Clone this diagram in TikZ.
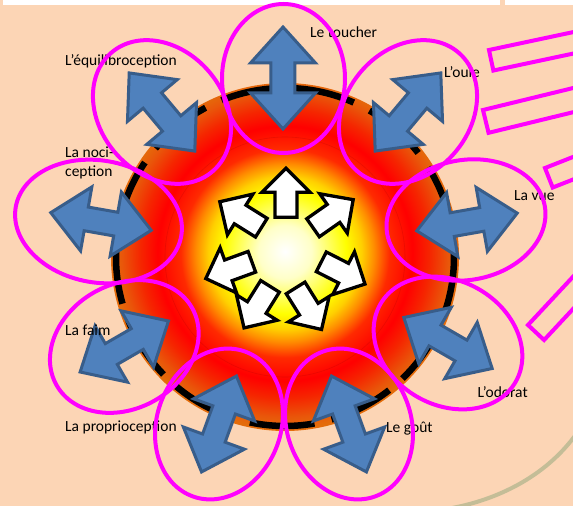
\documentclass[tikz,border=0pt]{standalone}
\usepackage{fontspec}
\setmainfont{Carlito}
\definecolor{peach}{HTML}{FCD5B5}
\definecolor{mag}{HTML}{FF00FF}
\definecolor{bluefill}{HTML}{4F81BD}
\definecolor{blueedge}{HTML}{385D8A}
\definecolor{khaki}{HTML}{C4BD97}
\definecolor{sA}{HTML}{FFFFC8}
\definecolor{sB}{HTML}{FFFF00}
\definecolor{sC}{HTML}{FFD000}
\definecolor{sD}{HTML}{FF8C00}
\definecolor{sE}{HTML}{FF2A00}
\definecolor{sF}{HTML}{FF0000}
\definecolor{sG}{HTML}{F52600}
\definecolor{sH}{HTML}{E9560A}
\definecolor{sI}{HTML}{E46C0A}
\pgfdeclareradialshading{sun}{\pgfpoint{0bp}{0.8bp}}{%
 color(0bp)=(white);
 color(3.8bp)=(sA);
 color(8.8bp)=(sB);
 color(11bp)=(sC);
 color(12.8bp)=(sD);
 color(15bp)=(sE);
 color(18.3bp)=(sF);
 color(20.8bp)=(sG);
 color(23.4bp)=(sH);
 color(25bp)=(sI);
 color(50bp)=(sI)}
\tikzset{
 magel/.style={draw=mag, line width=4pt},
 magrect/.style={draw=mag, line width=4pt},
 khakiline/.style={draw=khaki, line width=4pt},
 ringdash/.style={draw=black, line width=6.5pt, dash pattern=on 65pt off 17.6pt},
 bluearrow/.style={fill=bluefill, draw=blueedge, line width=3pt, line join=miter},
 whitearrow/.style={fill=white, draw=black, line width=3.3pt, line join=miter},
 lbl/.style={anchor=base west, inner sep=0pt, font=\fontsize{15.5}{19.4}\selectfont, text=black},
}
\newcommand\sensearrow[3]{%
 \path[bluearrow, shift={(#1,#2)}, rotate=#3] (51,0) -- (15,32.5) -- (15,12) -- (-15,12) -- (-15,32.5) -- (-51,0) -- (-15,-32.5) -- (-15,-12) -- (15,-12) -- (15,-32.5) -- cycle;}
\newcommand\innerarrow[3]{%
 \path[whitearrow, shift={(#1,#2)}, rotate=#3] (25,0) -- (1,24) -- (1,11) -- (-24,11) -- (-24,-11) -- (1,-11) -- (1,-24) -- cycle;}
\newcommand\senseellipse[5]{%
 \draw[magel, shift={(#1,#2)}, rotate=#3] (0,0) ellipse [x radius=#4pt, y radius=#5pt];}
\begin{document}
\begin{tikzpicture}[x=1pt,y=1pt]
\useasboundingbox (-285,-249) rectangle (288,257);
\begin{scope}
\clip (-285,-249) rectangle (288,257);
\fill[peach] (-285,-249) rectangle (288,257);
\fill[white] (-281.5,251.5) rectangle (215,257);
\fill[white] (220,251.5) rectangle (288,257);
\draw[khakiline] (167,-251) .. controls (210,-243) and (260,-221) .. (292,-176);
\draw[magrect, shift={(204,207)}, rotate=12] (0,0) rectangle (150,-21);
\draw[magrect, shift={(198,147)}, rotate=13.7] (0,0) rectangle (150,-23.5);
\draw[magrect, shift={(260,89)}, rotate=21.5] (0,0) rectangle (150,-21);
\draw[magrect, shift={(243,-68)}, rotate=47] (0,0) rectangle (150,-22);
\end{scope}
% central disc
\shade[shading=sun] (0,0) circle [radius=174];
\draw[red!60!black, opacity=0.2, line width=0.6pt] (0,0) circle [radius=120];
\draw[ringdash] (90:169) arc [start angle=90, end angle=450, radius=169];
% inner white arrows
\innerarrow{1}{63.7}{90}
\innerarrow{47.7}{43}{35}
\innerarrow{57.7}{-15.7}{-27}
\innerarrow{23.3}{-51.3}{-58}
\innerarrow{-27.7}{-49.7}{-122}
\innerarrow{-55.7}{-13}{-160}
\innerarrow{-44}{42}{148}
% blue double arrows
\sensearrow{-2}{179}{90}
\sensearrow{123}{145}{50}
\sensearrow{182}{35}{10}
\sensearrow{163}{-86}{-30}
\sensearrow{64}{-167}{-70}
\sensearrow{-66}{-167}{-110}
\sensearrow{-160.7}{-89.5}{-150}
\sensearrow{-184}{35.5}{170}
\sensearrow{-123}{145}{130}
% labels
\node[lbl] (toucher) at (25,219) {Le toucher};
\node[lbl] (equi) at (-220,191) {L’équilibroception};
\node[lbl] (ouie) at (159,179.3) {L’ouïe};
\node[lbl] (vue) at (229,56.3) {La vue};
\node[lbl] (noci1) at (-220,99.7) {La noci-};
\node[lbl] (noci2) at (-220,80.3) {ception};
\node[lbl] (faim) at (-220,-78) {La faim};
\node[lbl] (proprio) at (-220,-174.7) {La proprioception};
\node[lbl] (gout) at (101,-175.3) {Le goût};
\node[lbl] (odorat) at (192.3,-140.3) {L’odorat};
% magenta ellipses
\senseellipse{-1.5}{178.5}{90}{74.5}{61.5}
\senseellipse{123}{145}{50}{78}{62}
\senseellipse{181}{37}{10}{80}{60}
\senseellipse{163}{-86}{-30}{78}{62}
\senseellipse{64}{-167}{-70}{77}{62}
\senseellipse{-66}{-167}{-110}{77}{62}
\senseellipse{-160.7}{-89.5}{-150}{78}{62}
\senseellipse{-186.5}{35.5}{170}{84}{61}
\senseellipse{-123}{145}{130}{78}{62}
\end{tikzpicture}
\end{document}
